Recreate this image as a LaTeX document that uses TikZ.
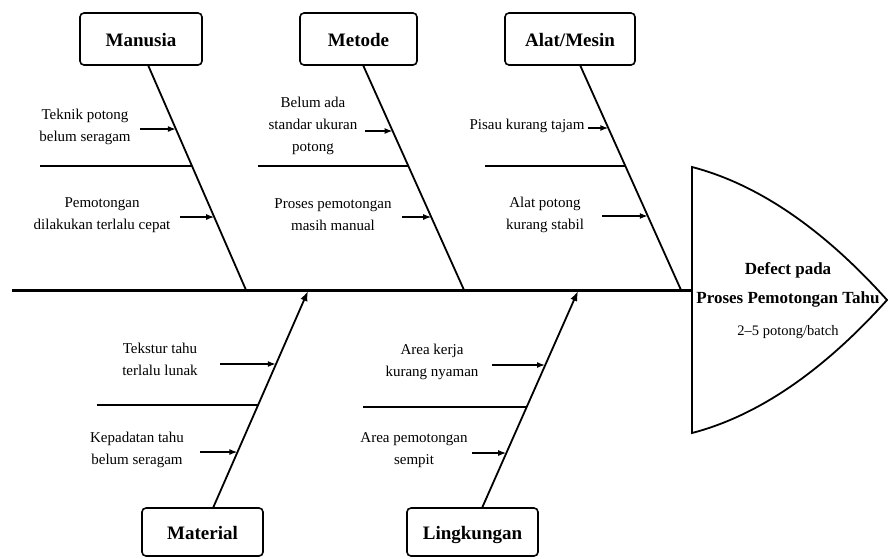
\documentclass[tikz,border=0pt]{standalone}
\usepackage{fontspec}
\setmainfont{Liberation Serif}
\usetikzlibrary{arrows.meta}
\begin{document}
\begin{tikzpicture}[x=1pt,y=-1pt,
  catbox/.style={draw, line width=1.6pt, rounded corners=4pt, inner sep=0pt,
    text height=16pt, text depth=2pt,
    font=\fontsize{19}{22}\selectfont\bfseries},
  cause/.style={align=center, inner sep=0pt, font=\fontsize{15}{22}\selectfont},
  headtxt/.style={inner sep=0pt, font=\fontsize{17}{20}\selectfont\bfseries},
  subtxt/.style={inner sep=0pt, font=\fontsize{14.5}{18}\selectfont},
  spine/.style={line width=3pt},
  bone/.style={line width=1.8pt},
  rib/.style={line width=1.6pt},
  feed/.style={line width=1.4pt, -{Latex[length=8pt,width=6pt]}},
  rise/.style={line width=1.8pt, -{Latex[length=10pt,width=7.5pt]}}]
\useasboundingbox (0,0) rectangle (888,558);

% ---- effect head ----
\draw[line width=1.8pt, fill=white] (692,167) .. controls (757.3,184) and (822.7,228.3) .. (887,300)
  .. controls (822.7,371.7) and (757.3,416) .. (692,433) -- cycle;
\node[headtxt] (eff1) at (788,270) {Defect pada};
\node[headtxt] (eff2) at (788,299) {Proses Pemotongan Tahu};
\node[subtxt]  (eff3) at (788,332) {2--5 potong/batch};

% ---- spine ----
\coordinate (spL) at (12,290);
\coordinate (spR) at (692,290);
\draw[spine] (spL) -- (spR);

% ---- category boxes ----
\node[catbox, minimum width=122pt, minimum height=52pt] (manusia) at (141,39) {Manusia};
\node[catbox, minimum width=117pt, minimum height=52pt] (metode) at (358.5,39) {Metode};
\node[catbox, minimum width=130pt, minimum height=52pt] (alat) at (570,39) {Alat/Mesin};
\node[catbox, minimum width=121pt, minimum height=48pt] (material) at (202.5,532) {Material};
\node[catbox, minimum width=131pt, minimum height=48pt] (lingk) at (472.5,532) {Lingkungan};

% ---- main bones ----
\coordinate (manT) at (148,65);   \coordinate (manB) at (246,290);
\coordinate (metT) at (363,65);   \coordinate (metB) at (464,290);
\coordinate (alaT) at (580,65);   \coordinate (alaB) at (681,290);
\coordinate (matB) at (213,508);  \coordinate (matT) at (308,291);
\coordinate (linB) at (482,508);  \coordinate (linT) at (578,291);
\draw[bone] (manT) -- (manB);
\draw[bone] (metT) -- (metB);
\draw[bone] (alaT) -- (alaB);
\draw[rise] (matB) -- (matT);
\draw[rise] (linB) -- (linT);

% ---- horizontal ribs ----
\coordinate (r1a) at (40,166);  \coordinate (r1b) at (192,166);
\coordinate (r2a) at (258,166); \coordinate (r2b) at (408.3,166);
\coordinate (r3a) at (485,166); \coordinate (r3b) at (625.3,166);
\coordinate (r4a) at (97,405);  \coordinate (r4b) at (257.9,405);
\coordinate (r5a) at (363,407); \coordinate (r5b) at (526.5,407);
\draw[rib] (r1a) -- (r1b);
\draw[rib] (r2a) -- (r2b);
\draw[rib] (r3a) -- (r3b);
\draw[rib] (r4a) -- (r4b);
\draw[rib] (r5a) -- (r5b);

% ---- causes ----
\node[cause] (c1) at (85,127)  {Teknik potong\\belum seragam};
\node[cause] (c2) at (102,215) {Pemotongan\\dilakukan terlalu cepat};
\node[cause] (c3) at (313,126) {Belum ada\\standar ukuran\\potong};
\node[cause] (c4) at (333,215) {Proses pemotongan\\masih manual};
\node[cause] (c5) at (527,126) {Pisau kurang tajam};
\node[cause] (c6) at (545,215) {Alat potong\\kurang stabil};
\node[cause] (c7) at (160,359) {Tekstur tahu\\terlalu lunak};
\node[cause] (c8) at (137,450) {Kepadatan tahu\\belum seragam};
\node[cause] (c9) at (432,362) {Area kerja\\kurang nyaman};
\node[cause] (c10) at (414,450) {Area pemotongan\\sempit};

% ---- cause arrows onto the bones ----
\coordinate (a1s) at (140,129);  \coordinate (a1e) at (175.9,129);
\coordinate (a2s) at (180,217);  \coordinate (a2e) at (214.2,217);
\coordinate (a3s) at (365,131);  \coordinate (a3e) at (392.6,131);
\coordinate (a4s) at (402,217);  \coordinate (a4e) at (431.2,217);
\coordinate (a5s) at (588,128);  \coordinate (a5e) at (608.3,128);
\coordinate (a6s) at (602,216);  \coordinate (a6e) at (647.8,216);
\coordinate (a7s) at (220,364);  \coordinate (a7e) at (275.8,364);
\coordinate (a8s) at (200,452);  \coordinate (a8e) at (237.4,452);
\coordinate (a9s) at (492,365);  \coordinate (a9e) at (545,365);
\coordinate (a10s) at (472,453); \coordinate (a10e) at (506.2,453);
\foreach \i in {1,...,10} \draw[feed] (a\i s) -- (a\i e);
\end{tikzpicture}
\end{document}
